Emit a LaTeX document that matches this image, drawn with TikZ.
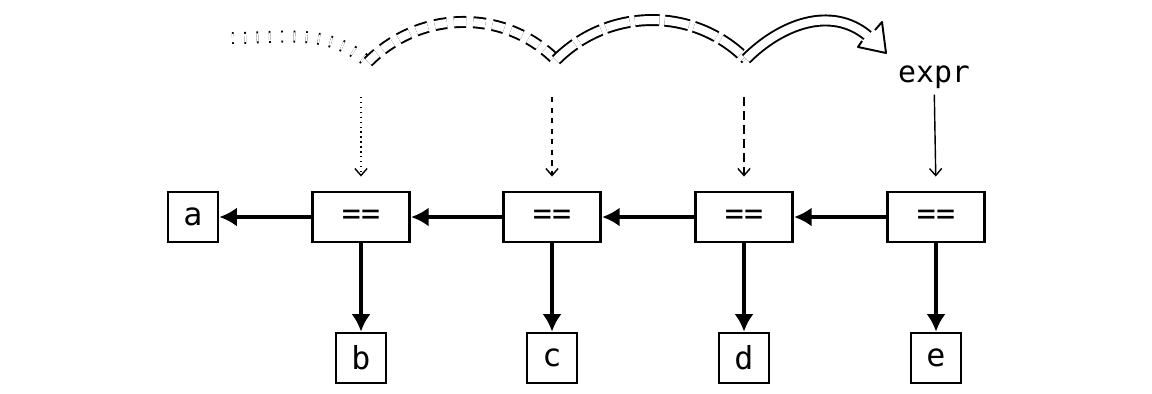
\documentclass[tikz,border=0pt]{standalone}
\usepackage{fontspec}
\setmonofont{DejaVu Sans Mono}
\usetikzlibrary{arrows.meta}
\tikzset{
  box/.style = {draw, line width=1.6pt, minimum width=1cm, minimum height=1cm, inner sep=0pt, font=\ttfamily\fontsize{18}{20}\selectfont},
  eqbox/.style = {box, minimum width=1.95cm},
  link/.style = {line width=2.6pt, -{Latex[length=10pt,width=11pt]}},
  hint/.style = {line width=0.8pt, shorten >=8pt, -{Straight Barb[length=4pt,width=7pt]}},
  hop/.style = {double, double distance=4.6pt, line width=1.1pt}
}
\begin{document}
\begin{tikzpicture}[x=0.02cm, y=-0.02cm]
  \useasboundingbox (0,0) rectangle (1152,393);
  \node[box] (a) at (193,217) {a};
  \node[eqbox] (eq1) at (361,217) {==};
  \node[eqbox] (eq2) at (552,217) {==};
  \node[eqbox] (eq3) at (744,217) {==};
  \node[eqbox] (eq4) at (936,217) {==};
  \node[box] (b) at (361,358) {b};
  \node[box] (c) at (552,358) {c};
  \node[box] (d) at (744,358) {d};
  \node[box] (e) at (936,358) {e};
  \node[font=\ttfamily\fontsize{17}{20}\selectfont] (expr) at (934,77) {expr};

  \draw[link] (eq1.west) -- (a.east);
  \draw[link] (eq2.west) -- (eq1.east);
  \draw[link] (eq3.west) -- (eq2.east);
  \draw[link] (eq4.west) -- (eq3.east);
  \draw[link] (eq1.south) -- (b.north);
  \draw[link] (eq2.south) -- (c.north);
  \draw[link] (eq3.south) -- (d.north);
  \draw[link] (eq4.south) -- (e.north);

  \coordinate (s0) at (232,38);
  \coordinate (v1) at (368,62);
  \coordinate (v2) at (556,60);
  \coordinate (v3) at (746,59);
  \coordinate (s4) at (868,36);
  \draw[hint, dotted] (361,97) -- (eq1.north);
  \draw[hint, dash pattern=on 3pt off 3pt] (552,97) -- (eq2.north);
  \draw[hint, dash pattern=on 5pt off 3pt] (744,97) -- (eq3.north);
  \draw[hint] (expr) -- (eq4.north);

  \draw[hop, dash pattern=on 1pt off 6pt] (s0) to[out=0, in=140] (v1);
  \draw[hop, dash pattern=on 7pt off 4pt] (v1) to[out=45, in=135] (v2);
  \draw[hop, dash pattern=on 14pt off 3pt] (v2) to[out=45, in=135] (v3);
  \draw[hop] (v3) to[out=45, in=140] (s4);
  \draw[line width=1.1pt, fill=white, line join=round] (862,41) -- (858,47) -- (886,53) -- (882,22) -- (875,30);
\end{tikzpicture}
\end{document}
